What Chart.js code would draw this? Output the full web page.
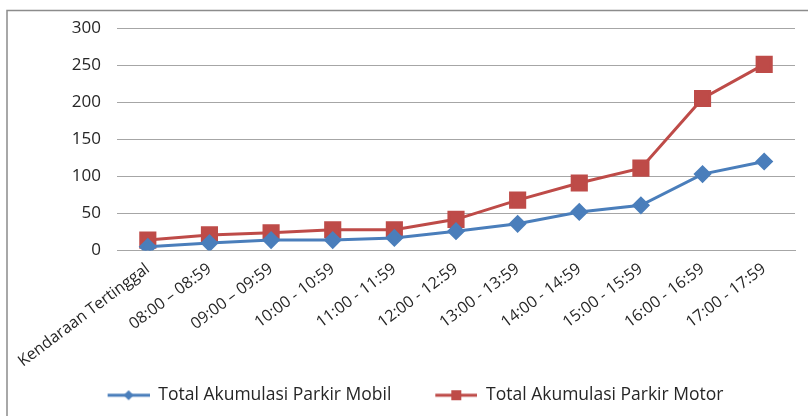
<!DOCTYPE html>
<html>
<head>
<meta charset="utf-8">
<script src="https://cdn.jsdelivr.net/npm/chart.js@4"></script>
<style>
    html, body { margin: 0; padding: 0; background: #ffffff; }
    #wrap { width: 808px; height: 416px; position: relative; }
</style>
</head>
<body>
<div id="wrap"><canvas id="parkirChart" width="808" height="416"></canvas></div>
<script>
// Data
const categories = [
    'Kendaraan Tertinggal', '08:00 – 08:59', '09:00 – 09:59', '10:00 - 10:59',
    '11:00 - 11:59', '12:00 - 12:59', '13:00 - 13:59', '14:00 - 14:59',
    '15:00 - 15:59', '16:00 - 16:59', '17:00 - 17:59'
];
const mobilValues = [5, 10, 14, 14, 17, 26, 36, 52, 61, 103, 120];
const motorValues = [14, 21, 24, 28, 28, 42, 68, 91, 111, 205, 251];
const yTicks = [0, 50, 100, 150, 200, 250, 300];

const blue = '#4a7ebb';
const red = '#be4b48';
const textColor = '#262626';
const fontFamily = '"Open Sans", "Liberation Sans", sans-serif';

// Legend icon: a line with the series marker in the middle.
// The first 34px are left blank so the items sit further apart.
function legendIcon(color, shape) {
    const c = document.createElement('canvas');
    c.width = 76;
    c.height = 12;
    const g = c.getContext('2d');
    g.strokeStyle = color;
    g.lineWidth = 3;
    g.beginPath();
    g.moveTo(34, 6);
    g.lineTo(76, 6);
    g.stroke();
    g.fillStyle = color;
    if (shape === 'diamond') {
        g.beginPath();
        g.moveTo(55, 1);
        g.lineTo(60, 6);
        g.lineTo(55, 11);
        g.lineTo(50, 6);
        g.closePath();
        g.fill();
    } else {
        g.fillRect(50, 1, 10, 10);
    }
    return c;
}

// Grey frame round the chart, like the original
const framePlugin = {
    id: 'frame',
    beforeDraw(chart) {
        const ctx = chart.ctx;
        ctx.save();
        ctx.strokeStyle = '#8c8c8c';
        ctx.lineWidth = 1.5;
        ctx.strokeRect(7, 10.5, 900, 600);
        ctx.restore();
    }
};

const ctx = document.getElementById('parkirChart').getContext('2d');
const parkirChart = new Chart(ctx, {
    type: 'line',
    data: {
        labels: categories,
        datasets: [{
            label: 'Total Akumulasi Parkir Mobil',
            data: mobilValues,
            borderColor: blue,
            backgroundColor: blue,
            borderWidth: 3,
            pointStyle: 'rectRot',
            pointRadius: 7,
            pointHoverRadius: 7,
            pointBackgroundColor: blue,
            pointBorderColor: blue,
            tension: 0
        }, {
            label: 'Total Akumulasi Parkir Motor',
            data: motorValues,
            borderColor: red,
            backgroundColor: red,
            borderWidth: 3,
            pointStyle: 'rect',
            pointRadius: 10,
            pointHoverRadius: 10,
            pointBackgroundColor: red,
            pointBorderColor: red,
            tension: 0
        }]
    },
    options: {
        responsive: false,
        animation: false,
        events: [],
        layout: {
            padding: { left: 0, right: 11, top: 28, bottom: 2 }
        },
        plugins: {
            legend: {
                position: 'bottom',
                labels: {
                    usePointStyle: true,
                    pointStyleWidth: 76,
                    boxHeight: 12,
                    padding: 10,
                    color: textColor,
                    font: { family: fontFamily, size: 17.5 },
                    generateLabels(chart) {
                        return chart.data.datasets.map((ds, i) => ({
                            text: ds.label,
                            pointStyle: legendIcon(ds.borderColor, i === 0 ? 'diamond' : 'square'),
                            fillStyle: ds.borderColor,
                            strokeStyle: ds.borderColor,
                            lineWidth: 0,
                            fontColor: textColor,
                            datasetIndex: i,
                            hidden: false
                        }));
                    }
                }
            },
            tooltip: { enabled: false }
        },
        scales: {
            x: {
                offset: true,
                grid: { display: false, drawTicks: false },
                border: { display: true, color: '#a6a6a6', width: 1 },
                ticks: {
                    autoSkip: false,
                    minRotation: 37,
                    maxRotation: 37,
                    padding: 9,
                    color: textColor,
                    font: { family: fontFamily, size: 16 }
                },
                afterFit(scale) {
                    scale.height = 126;
                }
            },
            y: {
                min: 0,
                max: 300,
                afterBuildTicks(scale) {
                    scale.ticks = yTicks.map(v => ({ value: v }));
                },
                grid: { color: '#a6a6a6', drawTicks: false },
                border: { display: false },
                ticks: {
                    padding: 16,
                    color: textColor,
                    font: { family: fontFamily, size: 17 }
                },
                afterFit(scale) {
                    scale.width = 117;
                }
            }
        }
    },
    plugins: [framePlugin]
});
</script>
</body>
</html>
